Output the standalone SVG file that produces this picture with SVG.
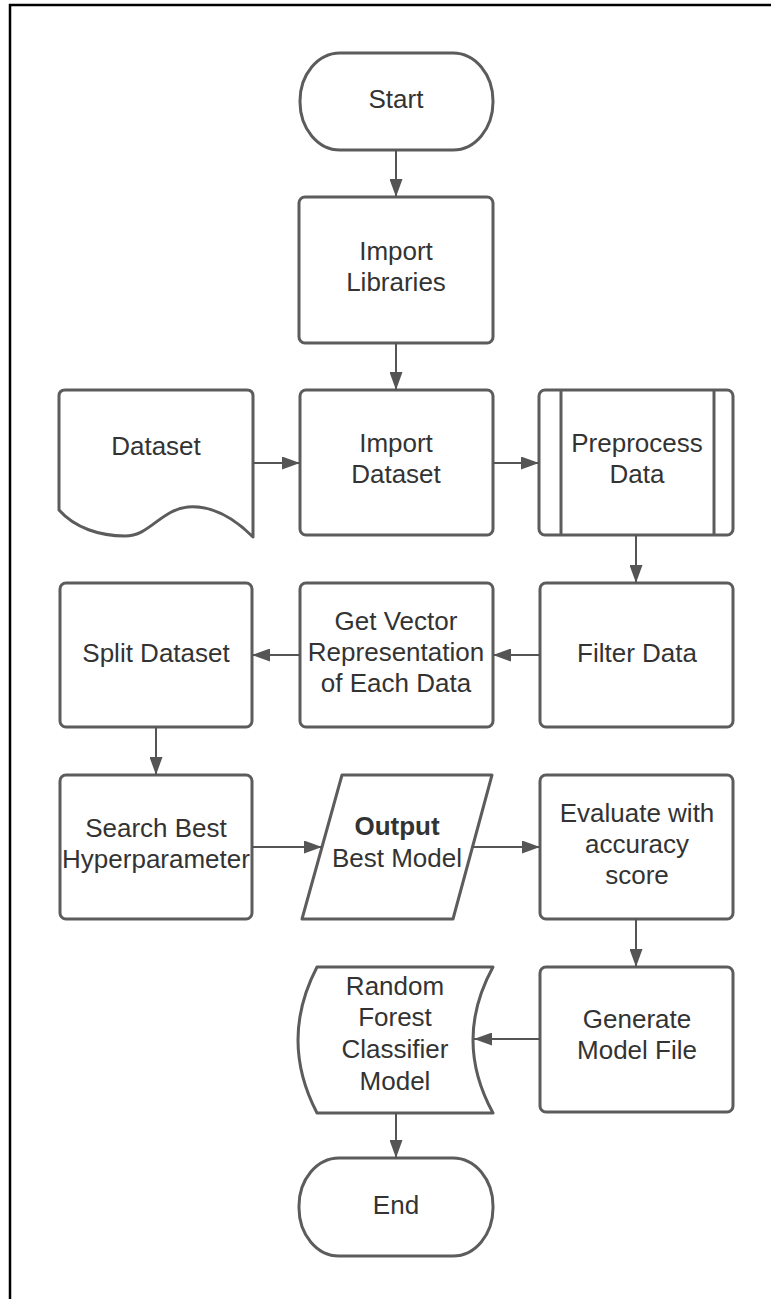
<svg xmlns="http://www.w3.org/2000/svg" width="771" height="1299" viewBox="0 0 771 1299">
<style>
.n{fill:#fff;stroke:#5c5c5c;stroke-width:3;stroke-linejoin:round}
.t{font-family:"Liberation Sans",Arial,sans-serif;font-size:26px;fill:#333;text-anchor:middle}
.c{stroke:#555;stroke-width:2;fill:none}
</style>
<defs>
<marker id="ah" markerWidth="18" markerHeight="13" refX="18" refY="6.5" orient="auto" markerUnits="userSpaceOnUse">
<path d="M0,0 L18,6.5 L0,13 Z" fill="#555"/>
</marker>
</defs>
<rect x="0" y="0" width="771" height="1299" fill="#fff"/>
<rect x="10" y="5" width="900" height="1400" fill="none" stroke="#000" stroke-width="2.5"/>

<g id="start">
<rect class="n" x="300" y="53" width="193" height="97" rx="40" ry="48"/>
<text class="t" x="396" y="108">Start</text>
</g>
<g id="import-libraries">
<rect class="n" x="299" y="197" width="194" height="146" rx="6"/>
<text class="t" x="396" y="260">Import</text>
<text class="t" x="396" y="291">Libraries</text>
</g>
<g id="dataset">
<path class="n" d="M59,510 L59,396 Q59,390 65,390 L247,390 Q253,390 253,396 L253,537 C236,520 214,505 188,507 C160,510 150,536 125,536 C100,536 75,528 59,510 Z"/>
<text class="t" x="156" y="455">Dataset</text>
</g>
<g id="import-dataset">
<rect class="n" x="300" y="390" width="193" height="145" rx="6"/>
<text class="t" x="396" y="452">Import</text>
<text class="t" x="396" y="483">Dataset</text>
</g>
<g id="preprocess">
<rect class="n" x="539" y="390" width="194" height="145" rx="6"/>
<line class="n" x1="561" y1="390" x2="561" y2="535"/>
<line class="n" x1="714" y1="390" x2="714" y2="535"/>
<text class="t" x="637" y="452">Preprocess</text>
<text class="t" x="637" y="483">Data</text>
</g>
<g id="filter-data">
<rect class="n" x="540" y="583" width="193" height="144" rx="6"/>
<text class="t" x="637" y="662">Filter Data</text>
</g>
<g id="get-vector">
<rect class="n" x="300" y="583" width="193" height="144" rx="6"/>
<text class="t" x="396" y="630">Get Vector</text>
<text class="t" x="396" y="661">Representation</text>
<text class="t" x="396" y="692">of Each Data</text>
</g>
<g id="split-dataset">
<rect class="n" x="60" y="583" width="192" height="144" rx="6"/>
<text class="t" x="156" y="662">Split Dataset</text>
</g>
<g id="search-best">
<rect class="n" x="60" y="775" width="192" height="144" rx="6"/>
<text class="t" x="156" y="837">Search Best</text>
<text class="t" x="156" y="868">Hyperparameter</text>
</g>
<g id="output">
<polygon class="n" points="342,775 492,775 453,919 302,919"/>
<text class="t" x="397" y="835" font-weight="bold">Output</text>
<text class="t" x="397" y="867">Best Model</text>
</g>
<g id="evaluate">
<rect class="n" x="540" y="775" width="193" height="144" rx="6"/>
<text class="t" x="637" y="822">Evaluate with</text>
<text class="t" x="637" y="853">accuracy</text>
<text class="t" x="637" y="884">score</text>
</g>
<g id="generate">
<rect class="n" x="540" y="967" width="193" height="145" rx="6"/>
<text class="t" x="637" y="1028">Generate</text>
<text class="t" x="637" y="1059">Model File</text>
</g>
<g id="random-forest">
<path class="n" d="M317,967 L493,967 Q453,1040 493,1113 L317,1113 Q279,1040 317,967 Z"/>
<text class="t" x="395" y="995">Random</text>
<text class="t" x="395" y="1026">Forest</text>
<text class="t" x="395" y="1058">Classifier</text>
<text class="t" x="395" y="1090">Model</text>
</g>
<g id="end">
<rect class="n" x="299" y="1158" width="194" height="98" rx="40" ry="48"/>
<text class="t" x="396" y="1214">End</text>
</g>

<g id="connectors">
<line class="c" x1="396" y1="150" x2="396" y2="197" marker-end="url(#ah)"/>
<line class="c" x1="396" y1="343" x2="396" y2="390" marker-end="url(#ah)"/>
<line class="c" x1="253" y1="463" x2="300" y2="463" marker-end="url(#ah)"/>
<line class="c" x1="493" y1="463" x2="539" y2="463" marker-end="url(#ah)"/>
<line class="c" x1="636" y1="535" x2="636" y2="583" marker-end="url(#ah)"/>
<line class="c" x1="540" y1="655" x2="493" y2="655" marker-end="url(#ah)"/>
<line class="c" x1="300" y1="655" x2="252" y2="655" marker-end="url(#ah)"/>
<line class="c" x1="156" y1="727" x2="156" y2="775" marker-end="url(#ah)"/>
<line class="c" x1="252" y1="847" x2="322" y2="847" marker-end="url(#ah)"/>
<line class="c" x1="472" y1="847" x2="540" y2="847" marker-end="url(#ah)"/>
<line class="c" x1="636" y1="919" x2="636" y2="967" marker-end="url(#ah)"/>
<line class="c" x1="540" y1="1039" x2="474" y2="1039" marker-end="url(#ah)"/>
<line class="c" x1="396" y1="1113" x2="396" y2="1158" marker-end="url(#ah)"/>
</g>
</svg>
